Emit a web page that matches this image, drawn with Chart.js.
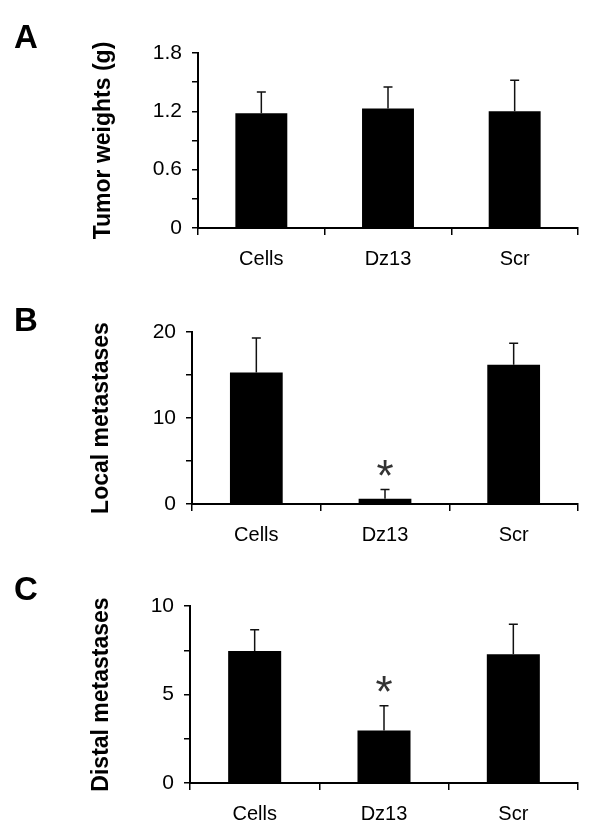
<!DOCTYPE html>
<html>
<head>
<meta charset="utf-8">
<script src="https://cdn.jsdelivr.net/npm/chart.js@4.4.1/dist/chart.umd.min.js"></script>
<style>
  html, body { margin: 0; padding: 0; background: #fff; }
  #wrap { position: relative; width: 600px; height: 838px; overflow: hidden; }
  #wrap canvas { position: absolute; left: 0; }
</style>
</head>
<body>
<div id="wrap">
  <canvas id="chartA" width="600" height="280" style="top:0"></canvas>
  <canvas id="chartB" width="600" height="280" style="top:280px"></canvas>
  <canvas id="chartC" width="600" height="278" style="top:560px"></canvas>
</div>
<script>
// data
const groups = ['Cells', 'Dz13', 'Scr'];

const tumorWeights = [1.18, 1.23, 1.20];
const tumorWeightsErr = [0.22, 0.22, 0.32];
const tumorTicks = ['0', '', '0.6', '', '1.2', '', '1.8'];

const localMets = [15.3, 0.6, 16.2];
const localMetsErr = [4.0, 1.1, 2.5];
const localTicks = ['0', '', '10', '', '20'];

const distalMets = [7.46, 2.97, 7.27];
const distalMetsErr = [1.2, 1.4, 1.7];
const distalTicks = ['0', '', '5', '', '10'];

const signif = ['', '*', ''];

const FONT = '"Liberation Sans", Arial, sans-serif';
const STAR_SIZE = 44;

// error bars + significance stars, drawn through the y scale
const errorBars = {
  id: 'errorBars',
  afterDatasetsDraw(chart, args, opts) {
    const ctx = chart.ctx;
    const y = chart.scales.y;
    const values = chart.data.datasets[0].data;
    chart.getDatasetMeta(0).data.forEach((bar, i) => {
      const top = y.getPixelForValue(values[i] + opts.err[i]);
      ctx.save();
      ctx.strokeStyle = '#111';
      ctx.lineWidth = 1.5;
      ctx.beginPath();
      ctx.moveTo(bar.x, bar.y);
      ctx.lineTo(bar.x, top);
      ctx.moveTo(bar.x - 4.5, top);
      ctx.lineTo(bar.x + 4.5, top);
      ctx.stroke();
      if (opts.marks[i]) {
        ctx.fillStyle = '#333';
        ctx.font = STAR_SIZE + 'px ' + FONT;
        ctx.textAlign = 'center';
        ctx.textBaseline = 'alphabetic';
        ctx.fillText(opts.marks[i], bar.x, top - 24 + 0.575 * STAR_SIZE);
      }
      ctx.restore();
    });
  }
};

const panelLetter = {
  id: 'panelLetter',
  afterDraw(chart, args, opts) {
    const ctx = chart.ctx;
    ctx.save();
    ctx.fillStyle = '#000';
    ctx.font = 'bold 33px ' + FONT;
    ctx.textBaseline = 'alphabetic';
    ctx.fillText(opts.text, opts.x, opts.y);
    ctx.restore();
  }
};

function makePanel(id, p) {
  const canvas = document.getElementById(id);
  const h = canvas.height;
  return new Chart(canvas, {
    type: 'bar',
    data: {
      labels: groups,
      datasets: [{
        data: p.values,
        backgroundColor: '#000',
        borderWidth: 0,
        barPercentage: 0.41,
        categoryPercentage: 1
      }]
    },
    options: {
      responsive: false,
      animation: false,
      events: [],
      layout: { padding: { left: 0, right: 22, top: p.top, bottom: 0 } },
      plugins: {
        legend: { display: false },
        tooltip: { enabled: false },
        errorBars: { err: p.err, marks: signif.map(s => p.stars ? s : '') },
        panelLetter: { text: p.letter, x: 14, y: p.letterY }
      },
      scales: {
        x: {
          afterFit(scale) { scale.height = h - p.bottom; },
          border: { color: '#000', width: 2 },
          grid: { offset: true, drawOnChartArea: false, drawTicks: true, tickLength: 7, color: '#000', lineWidth: 1.5 },
          ticks: { color: '#000', padding: 12, font: { family: FONT, size: 20 } }
        },
        y: {
          min: 0,
          max: p.max,
          afterFit(scale) { scale.width = p.left; },
          border: { color: '#000', width: 2 },
          grid: { drawOnChartArea: false, drawTicks: true, tickLength: 6, color: '#000', lineWidth: 1.5 },
          ticks: {
            stepSize: p.step,
            color: '#000',
            padding: 10,
            font: { family: FONT, size: 21 },
            callback: (v, i) => p.tickLabels[i]
          },
          title: {
            display: true,
            text: p.title,
            color: '#000',
            font: { family: FONT, size: 23, weight: 'bold', lineHeight: 1 },
            padding: { top: p.titleX - 11.5, bottom: 0 }
          }
        }
      }
    },
    plugins: [errorBars, panelLetter]
  });
}

makePanel('chartA', {
  values: tumorWeights, err: tumorWeightsErr, tickLabels: tumorTicks, stars: false,
  max: 1.8, step: 0.3, title: 'Tumor weights (g)', letter: 'A', letterY: 48,
  left: 198, top: 53, bottom: 228, titleX: 104
});

makePanel('chartB', {
  values: localMets, err: localMetsErr, tickLabels: localTicks, stars: true,
  max: 20, step: 5, title: 'Local metastases', letter: 'B', letterY: 51,
  left: 192, top: 52, bottom: 224, titleX: 102
});

makePanel('chartC', {
  values: distalMets, err: distalMetsErr, tickLabels: distalTicks, stars: true,
  max: 10, step: 2.5, title: 'Distal metastases', letter: 'C', letterY: 40,
  left: 190, top: 46, bottom: 223, titleX: 102
});
</script>
</body>
</html>
